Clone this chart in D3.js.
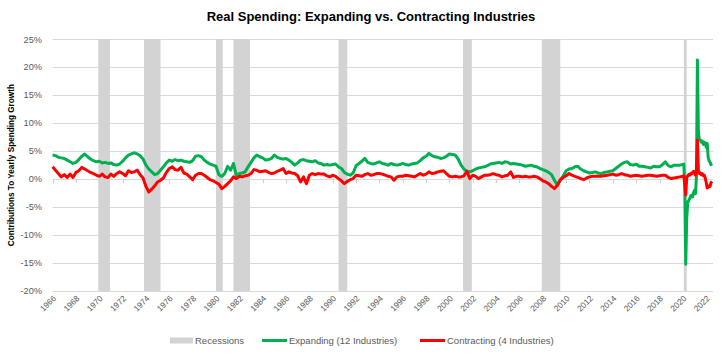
<!DOCTYPE html>
<html><head><meta charset="utf-8">
<script src="https://cdn.jsdelivr.net/npm/d3@7"></script>
<style>body{margin:0;background:#fff}svg{display:block;font-family:"Liberation Sans",Arial,sans-serif}</style>
</head><body><svg id="c" width="723" height="357"></svg>
<script>
// ---------- DATA ----------
const title = "Real Spending: Expanding vs. Contracting Industries";
const yTitle = "Contributions To Yearly Spending Growth";
const yTicks = [25,20,15,10,5,0,-5,-10,-15,-20];
const xTickYears = d3.range(1966, 2023, 2);
const seriesNames = ["Expanding (12 Industries)", "Contracting (4 Industries)"];
const recessionStart = ["1969-12","1973-11","1980-01","1981-07","1990-07","2001-03","2007-12","2020-02"];
const recessionEnd   = ["1970-11","1975-03","1980-07","1982-11","1991-03","2001-11","2009-06","2020-04"];
// quarterly readings (Jan, Apr, Jul, Oct) 1966 - 2019
const expandingQ = [
4.3,4.2,3.9,3.8, 3.7,3.4,3.1,2.8, 3.0,3.5,4.1,4.5, 4.0,3.6,3.3,3.1,
3.2,2.9,3.0,2.8, 2.9,2.6,2.5,2.7, 3.2,3.8,4.3,4.5, 4.7,4.5,4.2,3.6,
2.5,1.8,1.3,0.8, 1.0,1.6,2.2,2.9, 3.4,3.2,3.5,3.3, 3.4,3.2,3.1,3.0,
3.3,4.1,4.2,4.0, 3.4,3.0,2.7,2.5, 2.3,0.8,0.5,1.0, 2.3,1.6,2.8,0.6,
1.0,1.1,1.3,2.2, 3.0,3.8,4.3,4.0, 3.8,3.4,3.5,3.7, 4.3,3.9,3.7,3.6,
3.7,3.4,3.0,2.5, 2.9,3.4,3.5,3.3, 3.2,3.1,3.3,2.9, 2.8,2.5,2.6,2.5,
2.6,2.7,2.2,1.9, 1.2,0.9,0.7,1.1, 2.4,2.8,3.2,3.7, 3.0,2.8,2.7,2.9,
3.1,2.8,2.7,2.5, 2.8,2.6,2.5,2.6, 2.8,2.6,2.5,2.7, 2.8,2.9,3.3,3.8,
4.1,4.6,4.2,4.0, 3.9,3.7,3.8,4.1, 4.5,4.4,4.3,3.6, 2.5,1.8,1.4,1.3,
1.5,1.8,2.0,2.1, 2.2,2.4,2.7,2.8, 2.9,3.0,2.8,3.1, 3.0,2.7,2.8,2.7,
2.6,2.5,2.3,2.4, 2.5,2.3,2.2,1.9, 1.7,1.5,1.2,0.8, -0.2,-1.1,-0.2,0.6,
1.5,1.8,1.9,2.2, 2.3,1.8,1.5,1.3, 1.1,1.2,1.3,1.1, 1.0,1.2,1.3,1.4,
1.5,1.9,2.3,2.7, 3.0,3.1,2.6,2.5, 2.7,2.3,2.3,2.2, 2.1,2.0,2.3,2.2,
2.2,2.6,3.1,2.4, 2.2,2.5,2.5,2.5];
const contractingQ = [
2.2,1.6,1.0,0.4, 0.8,0.3,0.9,0.3, 1.2,1.5,2.1,1.8, 1.5,1.2,1.0,0.7,
0.5,0.9,0.4,0.3, 0.9,0.5,1.0,1.3, 1.0,0.6,1.5,1.2, 1.3,1.6,0.8,0.2,
-1.3,-2.3,-1.8,-1.2, -0.5,-0.2,0.2,1.2, 1.9,2.2,1.7,1.6, 2.1,1.1,0.9,0.4,
-0.1,0.7,1.0,1.0, 0.7,0.3,-0.1,-0.3, -0.6,-0.9,-1.7,-1.3, -0.8,-0.3,0.4,0.1,
0.5,0.4,0.6,0.7, 1.0,1.7,1.6,1.3, 1.4,1.5,1.2,1.0, 1.1,1.4,1.6,1.9,
1.0,1.3,1.1,1.0, 0.6,-0.5,0.4,-0.8, 0.7,1.0,0.8,1.0, 0.9,0.9,0.6,0.4,
0.7,0.5,0.1,-0.3, -0.8,-0.4,-0.1,0.1, 0.7,0.6,0.5,0.8, 1.0,0.7,0.8,1.0,
1.0,0.9,0.7,0.5, 0.4,-0.2,0.4,0.5, 0.5,0.7,0.6,0.5, 0.4,0.7,1.0,0.7,
0.9,1.3,1.0,1.1, 1.3,1.4,1.5,1.0, 0.5,0.4,0.5,0.4, 0.4,0.6,1.4,0.1,
0.7,0.5,0.1,0.4, 0.7,0.7,0.8,1.0, 0.8,0.7,0.4,0.6, 0.7,1.3,0.3,0.5,
0.5,0.4,0.5,0.4, 0.4,0.5,0.4,0.1, -0.3,-0.5,-0.8,-1.3, -1.7,-1.1,-0.1,0.3,
0.6,1.0,0.7,0.5, 0.3,0.1,-0.1,0.2, 0.4,0.5,0.5,0.5, 0.5,0.6,0.7,0.8,
0.9,0.7,0.8,1.0, 0.8,0.7,0.5,0.6, 0.7,0.6,0.5,0.6, 0.7,0.7,0.6,0.5,
0.6,0.7,0.7,0.3, 0.1,0.2,0.3,0.4];
// monthly readings Jan 2020 - Jul 2022
const expandingM = [
2.6,2.7,-1.5,-15.2,-7.0,-4.2,-3.8,-3.5,-3.0,-2.9,-3.2,-2.4,
-2.0,-2.6,0.5,21.3,8.5,7.0,7.0,6.6,6.8,6.2,6.6,6.5,
5.7,6.4,4.0,3.3,3.0,2.6,2.8];
const contractingM = [
0.5,0.6,-1.0,-2.8,0.2,0.6,0.8,0.7,1.0,0.9,1.2,1.4,
1.0,0.7,1.8,7.0,1.5,1.0,1.1,0.8,1.0,0.6,0.7,0.2,
-0.6,-1.6,-1.5,-1.2,-1.3,-0.6,-0.4];

// ---------- BUILD ----------
const qDates = expandingQ.map((d,i)=>new Date(Date.UTC(1966, 3*i, 1)));
const mDates = expandingM.map((d,i)=>new Date(Date.UTC(2020, i, 1)));
const dates = qDates.concat(mDates);
const series = [
  {name: seriesNames[0], color: "#00b050", values: expandingQ.concat(expandingM)},
  {name: seriesNames[1], color: "#ff0000", values: contractingQ.concat(contractingM)}
];
const parseM = d3.utcParse("%Y-%m");

const svg = d3.select("#c");
const pL = 52.6, pR = 712, pT = 39.3, pB = 291;
const x = d3.scaleUtc().domain([new Date(Date.UTC(1966,0,1)), new Date(Date.UTC(2022,6,1))]).range([pL, pR]);
const y = d3.scaleLinear().domain([-20, 25]).range([pB, pT]);

// gridlines
svg.append("g").selectAll("line").data(yTicks).join("line")
  .attr("x1", pL).attr("x2", 713).attr("y1", d=>Math.round(y(d))+0.5).attr("y2", d=>Math.round(y(d))+0.5)
  .attr("stroke", "#d9d9d9").attr("stroke-width", 1);

// recessions
svg.append("g").selectAll("rect").data(recessionStart.map((s,i)=>[parseM(s), d3.utcMonth.offset(parseM(recessionEnd[i]),1)])).join("rect")
  .attr("x", d=>x(d[0])).attr("width", d=>x(d[1])-x(d[0]))
  .attr("y", pT).attr("height", pB-pT).attr("fill", "#d3d3d3");

// x ticks on zero line
svg.append("g").selectAll("line").data(xTickYears).join("line")
  .attr("x1", d=>Math.round(x(new Date(Date.UTC(d,0,1))))+0.5).attr("x2", d=>Math.round(x(new Date(Date.UTC(d,0,1))))+0.5)
  .attr("y1", y(0)).attr("y2", y(0)+4).attr("stroke","#d0d0d0");

// lines
const line = d3.line().x((d,i)=>x(dates[i])).y(d=>y(d));
series.forEach(s=>{
  svg.append("path").attr("d", line(s.values)).attr("fill","none")
    .attr("stroke", s.color).attr("stroke-width", 3).attr("stroke-linejoin","round");
});

// y labels
svg.append("g").selectAll("text").data(yTicks).join("text")
  .attr("x", 42).attr("y", d=>y(d)).attr("dy","0.35em").attr("text-anchor","end")
  .attr("font-size", 9.2).attr("fill", "#595959").text(d=>d+"%");

// x labels
svg.append("g").selectAll("text").data(xTickYears).join("text")
  .attr("transform", d=>`translate(${x(new Date(Date.UTC(d,0,1)))+2},${pB+6}) rotate(-45)`)
  .attr("text-anchor","end").attr("dy","0.35em")
  .attr("font-size", 8.3).attr("fill", "#595959").text(d=>d);

// title
svg.append("text").attr("x", 371).attr("y", 21).attr("text-anchor","middle")
  .attr("font-size", 13).attr("font-weight","bold").attr("fill","#000").text(title);

// y title
svg.append("text").attr("transform", `translate(14,${(pT+pB)/2}) rotate(-90)`)
  .attr("text-anchor","middle").attr("font-size", 8.2).attr("font-weight","bold").attr("fill","#000").text(yTitle);

// legend
const lg = svg.append("g").attr("font-size", 9.5).attr("fill","#595959");
lg.append("rect").attr("x",170).attr("y",337.5).attr("width",23).attr("height",6).attr("fill","#d3d3d3");
lg.append("text").attr("x",195).attr("y",340.5).attr("dy","0.35em").text("Recessions");
const legX = [262, 420];
series.forEach((s,i)=>{
  lg.append("line").attr("x1",legX[i]).attr("x2",legX[i]+25).attr("y1",340.5).attr("y2",340.5)
    .attr("stroke",s.color).attr("stroke-width",3);
  lg.append("text").attr("x",legX[i]+27).attr("y",340.5).attr("dy","0.35em").text(s.name);
});
</script></body></html>
